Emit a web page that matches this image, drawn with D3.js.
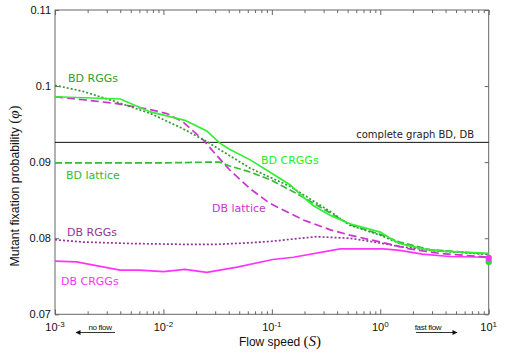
<!DOCTYPE html>
<meta charset="utf-8">
<head>
	<script type="text/javascript" src="https://cdn.jsdelivr.net/npm/d3@7/dist/d3.min.js"></script>
</head>
<body style="margin:0; background:#fff">
	<svg id="chart" width="507" height="354"></svg>
</body>
<script type="text/javascript">
	// values (S = flow speed, phi = fixation probability)
	var bdCrggsS = [0.001, 0.004, 0.0076, 0.0158, 0.0251, 0.0331, 0.0407, 0.0631, 0.0955, 0.148, 0.195, 0.24, 0.347, 0.525, 1, 1.23, 1.51, 2.45, 3.55, 5.13, 10];
	var bdCrggsPhi = [0.0986, 0.0983, 0.0966, 0.0955, 0.0941, 0.0925, 0.0917, 0.0903, 0.0887, 0.0870, 0.0854, 0.0843, 0.0830, 0.0819, 0.0808, 0.0800, 0.0793, 0.0786, 0.0783, 0.0782, 0.0780];

	var bdRggsS = [0.001, 0.00182, 0.00372, 0.00759, 0.0151, 0.0251, 0.0631, 0.148, 0.347, 0.525, 1, 1.51, 2.88, 10];
	var bdRggsPhi = [0.1001, 0.0993, 0.0979, 0.0964, 0.0944, 0.0927, 0.0892, 0.0868, 0.0835, 0.0817, 0.0804, 0.0793, 0.0784, 0.0779];

	var bdLatticeS = [0.001, 0.01, 0.0251, 0.0331, 0.0407, 0.0631, 0.1, 0.195, 0.398, 0.525, 1, 1.51, 2.88, 10];
	var bdLatticePhi = [0.0899, 0.0899, 0.0900, 0.0900, 0.0895, 0.0887, 0.0876, 0.0854, 0.0828, 0.0818, 0.0805, 0.0795, 0.0785, 0.0779];

	var dbLatticeS = [0.001, 0.00182, 0.00372, 0.00759, 0.0107, 0.0151, 0.0234, 0.0288, 0.0407, 0.0631, 0.0955, 0.195, 0.347, 0.525, 1, 1.86, 3.55, 10];
	var dbLatticePhi = [0.0986, 0.0982, 0.0977, 0.0969, 0.0964, 0.0953, 0.0929, 0.0914, 0.0890, 0.0865, 0.0846, 0.0824, 0.0811, 0.0804, 0.0795, 0.0786, 0.0780, 0.0775];

	var dbRggsS = [0.001, 0.00182, 0.00525, 0.0151, 0.0316, 0.0631, 0.1, 0.158, 0.257, 0.525, 1.07, 1.51, 3.09, 10];
	var dbRggsPhi = [0.0798, 0.0795, 0.0793, 0.0792, 0.0792, 0.0794, 0.0796, 0.0799, 0.0802, 0.0800, 0.0793, 0.0789, 0.0784, 0.0779];

	var dbCrggsS = [0.001, 0.00158, 0.00398, 0.00603, 0.01, 0.0158, 0.0251, 0.0479, 0.102, 0.158, 0.427, 1.07, 1.51, 2.45, 4.37, 10];
	var dbCrggsPhi = [0.0770, 0.0769, 0.0758, 0.0758, 0.0756, 0.0759, 0.0755, 0.0762, 0.0772, 0.0775, 0.0786, 0.0786, 0.0784, 0.0779, 0.0776, 0.0775];

	var completeGraphPhi = 0.0926;
	var endMarkers = [[10, 0.0769, "#22dd22"], [10, 0.0774, "#ff33ff"]];

	var yTicks = [0.07, 0.08, 0.09, 0.1, 0.11];
	var yTickLabels = ["0.07", "0.08", "0.09", "0.1", "0.11"];
	var xTicks = [0.001, 0.01, 0.1, 1, 10];
	var xTickExps = ["-3", "-2", "-1", "0", "1"];

	var svg = d3.select('#chart');
	var padL = 55, padR = 488.7, padT = 10, padB = 314.3;

	var x = d3.scaleLog().domain([0.001, 10]).range([padL, padR]);
	var y = d3.scaleLinear().domain([0.07, 0.11]).range([padB, padT]);

	var frameColor = "#666";

	// minor ticks for log axis
	var minorTicks = [];
	for (var e = -3; e < 1; e++) {
		for (var m = 2; m < 10; m++) minorTicks.push(m * Math.pow(10, e));
	}

	function tickAxis(axisFn, scale, vals, size, tr) {
		var g = svg.append("g").attr("transform", tr)
			.call(axisFn(scale).tickValues(vals).tickSize(size).tickFormat(""));
		g.select(".domain").remove();
		g.selectAll("line").attr("stroke", frameColor);
	}
	tickAxis(d3.axisBottom, x, minorTicks, -3, "translate(0," + padB + ")");
	tickAxis(d3.axisBottom, x, xTicks, -5, "translate(0," + padB + ")");
	tickAxis(d3.axisTop, x, minorTicks, -3, "translate(0," + padT + ")");
	tickAxis(d3.axisTop, x, xTicks, -5, "translate(0," + padT + ")");
	tickAxis(d3.axisLeft, y, yTicks, -4, "translate(" + padL + ",0)");
	tickAxis(d3.axisRight, y, yTicks, -4, "translate(" + padR + ",0)");

	// frame
	svg.append("rect")
		.attr("x", padL).attr("y", padT)
		.attr("width", padR - padL).attr("height", padB - padT)
		.attr("fill", "none").attr("stroke", frameColor).attr("stroke-width", 1);

	// complete graph reference
	svg.append("line")
		.attr("x1", padL).attr("x2", padR)
		.attr("y1", y(completeGraphPhi)).attr("y2", y(completeGraphPhi))
		.attr("stroke", "#111").attr("stroke-width", 1);

	var line = d3.line()
		.x(function(d) { return x(d[0]); })
		.y(function(d) { return y(d[1]); });

	var series = [
		{s: dbCrggsS, p: dbCrggsPhi, color: "#ff33ff", dash: null},
		{s: dbRggsS, p: dbRggsPhi, color: "#993399", dash: "2,2"},
		{s: dbLatticeS, p: dbLatticePhi, color: "#cc33cc", dash: "8,4"},
		{s: bdLatticeS, p: bdLatticePhi, color: "#33bb33", dash: "7,3"},
		{s: bdRggsS, p: bdRggsPhi, color: "#339933", dash: "2,2"},
		{s: bdCrggsS, p: bdCrggsPhi, color: "#33ee33", dash: null}
	];

	series.forEach(function(sr) {
		var pts = sr.s.map(function(v, i) { return [v, sr.p[i]]; });
		svg.append("path")
			.attr("d", line(pts))
			.attr("fill", "none")
			.attr("stroke", sr.color)
			.attr("stroke-width", 1.7)
			.attr("stroke-dasharray", sr.dash);
	});

	svg.selectAll(".endmark").data(endMarkers).enter().append("circle")
		.attr("cx", function(d) { return x(d[0]); })
		.attr("cy", function(d) { return y(d[1]); })
		.attr("r", 3.2)
		.attr("fill", function(d) { return d[2]; });

	// series labels
	var labels = [
		["BD RGGs", 68, 82, "#339933"],
		["BD lattice", 66, 179, "#33bb33"],
		["BD CRGGs", 261, 164, "#22ee22"],
		["DB lattice", 212, 212, "#cc33cc"],
		["DB RGGs", 67, 236, "#993399"],
		["DB CRGGs", 61, 285, "#ff33ff"]
	];
	svg.selectAll(".lbl").data(labels).enter().append("text")
		.attr("x", function(d) { return d[1]; })
		.attr("y", function(d) { return d[2]; })
		.attr("fill", function(d) { return d[3]; })
		.style("font-family", "DejaVu Sans")
		.style("font-size", "11px")
		.text(function(d) { return d[0]; });

	svg.append("text")
		.attr("x", 474).attr("y", 138)
		.attr("text-anchor", "end")
		.style("font-family", "DejaVu Sans").style("font-size", "10px")
		.attr("fill", "#222")
		.text("complete graph BD, DB");

	// tick labels
	svg.selectAll(".ylab").data(yTicks).enter().append("text")
		.attr("x", padL - 4)
		.attr("y", function(d) { return y(d) + 4; })
		.attr("text-anchor", "end")
		.style("font-family", "Liberation Sans").style("font-size", "11px")
		.attr("fill", "#111")
		.text(function(d, i) { return yTickLabels[i]; });

	var xl = svg.selectAll(".xlab").data(xTicks).enter().append("text")
		.attr("x", function(d) { return x(d); })
		.attr("y", 331)
		.attr("text-anchor", "middle")
		.style("font-family", "Liberation Sans").style("font-size", "11px")
		.attr("fill", "#111");
	xl.append("tspan").text("10");
	xl.append("tspan").attr("dy", -4).style("font-size", "8px")
		.text(function(d, i) { return xTickExps[i]; });

	// axis titles
	var xt = svg.append("text")
		.attr("x", 280).attr("y", 346)
		.attr("text-anchor", "middle")
		.style("font-family", "Liberation Sans").style("font-size", "12px")
		.attr("fill", "#111");
	xt.append("tspan").text("Flow speed  ");
	xt.append("tspan").style("font-family", "Liberation Serif").style("font-size", "15px").text("(");
	xt.append("tspan").style("font-family", "Liberation Serif").style("font-style", "italic").style("font-size", "15px").text("S");
	xt.append("tspan").style("font-family", "Liberation Serif").style("font-size", "15px").text(")");

	var yt = svg.append("text")
		.attr("transform", "translate(19,186) rotate(-90)")
		.attr("text-anchor", "middle")
		.style("font-family", "Liberation Sans").style("font-size", "12.3px")
		.attr("fill", "#111");
	yt.append("tspan").text("Mutant fixation probability  ");
	yt.append("tspan").style("font-family", "Liberation Serif").style("font-size", "15px").text("(");
	yt.append("tspan").style("font-family", "Liberation Serif").style("font-style", "italic").style("font-size", "15px").text("\u03C6");
	yt.append("tspan").style("font-family", "Liberation Serif").style("font-size", "15px").text(")");

	// flow direction hints
	svg.append("defs").append("marker")
		.attr("id", "arr").attr("viewBox", "0 0 10 10")
		.attr("refX", 9).attr("refY", 5)
		.attr("markerWidth", 7).attr("markerHeight", 5)
		.attr("orient", "auto")
		.append("path").attr("d", "M0,0L10,5L0,10Z").attr("fill", "#111");

	svg.append("line").attr("x1", 115).attr("x2", 76).attr("y1", 332.5).attr("y2", 332.5)
		.attr("stroke", "#333").attr("stroke-width", 1).attr("marker-end", "url(#arr)");
	svg.append("line").attr("x1", 416).attr("x2", 457).attr("y1", 332.5).attr("y2", 332.5)
		.attr("stroke", "#333").attr("stroke-width", 1).attr("marker-end", "url(#arr)");

	svg.append("text").attr("x", 100).attr("y", 330).attr("text-anchor", "middle")
		.style("font-family", "Liberation Sans").style("font-size", "8px").attr("fill", "#111")
		.style("letter-spacing", "-0.3px")
		.text("no flow");
	svg.append("text").attr("x", 428).attr("y", 330).attr("text-anchor", "middle")
		.style("font-family", "Liberation Sans").style("font-size", "8px").attr("fill", "#111")
		.style("letter-spacing", "-0.3px")
		.text("fast flow");
</script>
